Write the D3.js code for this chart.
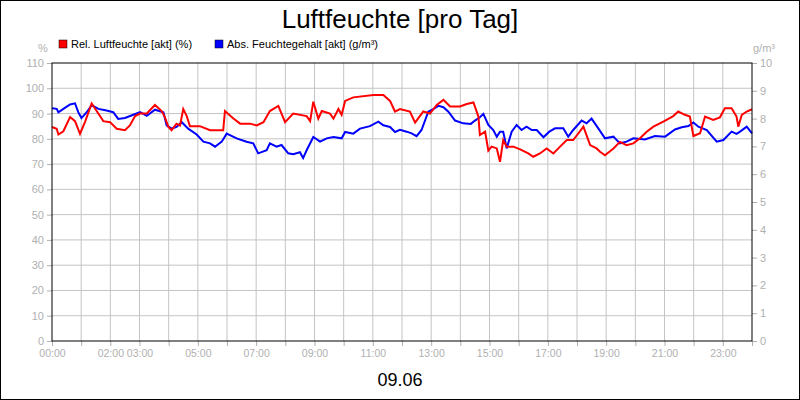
<!DOCTYPE html>
<html><head><meta charset="utf-8">
<script src="https://cdn.jsdelivr.net/npm/d3@7"></script>
<style>body{margin:0;background:#fff}svg{display:block}</style>
</head><body>
<svg id="chart" width="800" height="400"></svg>
<script>
// hours of day, relative humidity in %
const relTimes = [0,0.16,0.22,0.39,0.62,0.79,0.96,1.13,1.36,1.53,1.76,1.99,2.22,2.5,2.67,2.85,3.02,3.25,3.53,3.76,3.87,3.99,4.1,4.27,4.39,4.5,4.62,4.73,5.07,5.42,5.87,5.93,6.22,6.45,6.79,7.02,7.25,7.47,7.76,7.99,8.27,8.73,8.85,8.96,9.13,9.25,9.53,9.65,9.82,9.93,10.05,10.33,11.02,11.36,11.59,11.76,11.93,12.27,12.45,12.73,12.96,13.19,13.42,13.65,13.99,14.22,14.45,14.62,14.67,14.85,14.96,15.07,15.25,15.36,15.47,15.59,15.82,16.05,16.33,16.5,16.73,16.96,17.19,17.42,17.65,17.87,18.05,18.22,18.45,18.67,18.79,18.96,19.25,19.47,19.7,19.93,20.16,20.39,20.62,20.96,21.3,21.47,21.7,21.87,21.99,22.22,22.39,22.67,22.9,23.07,23.3,23.47,23.53,23.65,23.82,24];
const relValues = [84.7,84,81.7,83,88.6,87,82,86.6,94,91,87,86.6,84,83.4,85.3,89,90,90,93.4,91,88.6,84.7,83.4,86,85.3,91.8,89,85,85,83.4,83.4,91,88,86,86,85.3,86.6,91,93,86.6,90,89,87,94.7,88,91,90,88,91.8,89.5,95,96.4,97.3,97.3,95,90.8,91.8,90.8,86.4,90.8,90,93.4,95.4,92.8,92.8,93.8,94.4,88.8,81.5,82.8,75.3,76.9,76.2,70.9,79.5,76.9,76.9,75.8,74.2,72.9,74.2,76.2,74.2,76.9,79.5,79.5,82.2,84.8,77.5,76.2,74.9,73.5,76.2,78.8,77.5,78.2,80.2,82.8,84.8,86.8,89,90.8,89.5,88.8,81.1,82.2,88.8,87.5,88.5,92.1,92.1,88.8,84.8,89.5,90.8,91.7];
// hours of day, absolute humidity in g/m³
const absTimes = [0,0.16,0.22,0.39,0.62,0.79,0.9,1.01,1.19,1.36,1.59,1.87,2.1,2.27,2.5,2.79,3.02,3.25,3.53,3.82,3.93,4.1,4.27,4.45,4.67,4.96,5.19,5.42,5.59,5.82,5.99,6.33,6.67,6.9,7.07,7.36,7.47,7.7,7.87,8.1,8.27,8.5,8.61,8.73,8.96,9.19,9.42,9.65,9.93,10.05,10.33,10.56,10.9,11.19,11.36,11.59,11.76,11.93,12.16,12.33,12.5,12.67,12.9,13.07,13.25,13.42,13.59,13.82,14.1,14.36,14.5,14.67,14.79,14.96,15.13,15.25,15.36,15.47,15.59,15.76,15.93,16.1,16.27,16.45,16.62,16.85,17.05,17.25,17.53,17.7,17.87,18.16,18.33,18.5,18.73,18.96,19.25,19.47,19.7,19.93,20.33,20.67,21.02,21.36,21.59,21.82,21.99,22.16,22.45,22.79,23.02,23.3,23.47,23.59,23.82,24];
const absValues = [8.37,8.35,8.23,8.35,8.51,8.55,8.23,8.02,8.23,8.49,8.35,8.29,8.23,7.99,8.02,8.14,8.23,8.1,8.32,8.23,7.76,7.64,7.7,7.87,7.64,7.43,7.17,7.11,6.99,7.17,7.46,7.29,7.17,7.11,6.75,6.86,7.11,6.99,7.05,6.75,6.72,6.79,6.58,6.86,7.34,7.17,7.29,7.34,7.29,7.52,7.46,7.64,7.73,7.89,7.76,7.7,7.52,7.6,7.53,7.47,7.37,7.59,8.25,8.34,8.46,8.41,8.25,7.93,7.83,7.81,7.93,8.05,8.17,7.77,7.59,7.35,7.53,7.53,6.93,7.53,7.77,7.59,7.71,7.59,7.59,7.33,7.53,7.65,7.65,7.35,7.59,7.93,7.83,8.0,7.65,7.29,7.35,7.11,7.17,7.29,7.25,7.37,7.35,7.61,7.69,7.73,7.86,7.71,7.59,7.17,7.23,7.53,7.45,7.53,7.71,7.47,7.23,7.33,7.37];
const hourTicks = d3.range(0, 25);
const labelHours = [0,2,3,5,7,9,11,13,15,17,19,21,23];
const leftTicks = d3.range(0, 111, 10);
const rightTicks = d3.range(0, 11, 1);

const svg = d3.select("#chart");
const L = 52, R = 752, T = 63, B = 341;
const grey = "#b0b0b0";
const x = d3.scaleLinear().domain([0, 24]).range([L, R]);
const yL = d3.scaleLinear().domain([0, 110]).range([B, T]);
const yR = d3.scaleLinear().domain([0, 10]).range([B, T]);

svg.append("rect").attr("x", 0.5).attr("y", 0.5).attr("width", 799).attr("height", 399)
  .attr("fill", "#fff").attr("stroke", "#000");

// grid
svg.append("g").selectAll("line").data(hourTicks.slice(1, -1)).join("line")
  .attr("x1", d => x(d)).attr("x2", d => x(d)).attr("y1", T).attr("y2", B)
  .attr("stroke", "#c4c4c4");
svg.append("g").selectAll("line").data(leftTicks.slice(1, -1)).join("line")
  .attr("x1", L).attr("x2", R).attr("y1", d => yL(d)).attr("y2", d => yL(d))
  .attr("stroke", "#c4c4c4");

const font = "Liberation Sans, Arial, sans-serif";
// axes
const axL = svg.append("g").attr("transform", `translate(${L},0)`)
  .call(d3.axisLeft(yL).tickValues(leftTicks).tickSize(5).tickPadding(3));
const axR = svg.append("g").attr("transform", `translate(${R},0)`)
  .call(d3.axisRight(yR).tickValues(rightTicks).tickSize(5).tickPadding(3));
const axB = svg.append("g").attr("transform", `translate(0,${B})`)
  .call(d3.axisBottom(x).tickValues(hourTicks).tickSize(5).tickPadding(4)
    .tickFormat(d => labelHours.includes(d) ? String(d).padStart(2, "0") + ":00" : ""));
[axL, axR, axB].forEach(a => {
  a.select(".domain").remove();
  a.selectAll("line").attr("stroke", grey);
  a.selectAll("text").attr("fill", grey).style("font", `11px ${font}`);
});
axB.selectAll("text").style("font", `10.5px ${font}`);

// lines
const relLine = d3.line().x((d, i) => x(relTimes[i])).y(d => yL(d));
const absLine = d3.line().x((d, i) => x(absTimes[i])).y(d => yR(d));
svg.append("path").attr("d", absLine(absValues)).attr("fill", "none")
  .attr("stroke", "#0000ff").attr("stroke-width", 2);
svg.append("path").attr("d", relLine(relValues)).attr("fill", "none")
  .attr("stroke", "#ff0000").attr("stroke-width", 2);

svg.append("rect").attr("x", L).attr("y", T).attr("width", R - L).attr("height", B - T)
  .attr("fill", "none").attr("stroke", "#000");

// texts
svg.append("text").attr("x", 400).attr("y", 28).attr("text-anchor", "middle")
  .style("font", `26px ${font}`).text("Luftfeuchte [pro Tag]");
svg.append("text").attr("x", 400).attr("y", 386).attr("text-anchor", "middle")
  .style("font", `18px ${font}`).text("09.06");
svg.append("text").attr("x", 43).attr("y", 52).attr("text-anchor", "middle").attr("fill", grey)
  .style("font", `11px ${font}`).text("%");
svg.append("text").attr("x", 764).attr("y", 52).attr("text-anchor", "middle").attr("fill", grey)
  .style("font", `11px ${font}`).text("g/m³");

const legend = [
  { name: "Rel. Luftfeuchte [akt] (%)", color: "#ff0000", x: 59 },
  { name: "Abs. Feuchtegehalt [akt] (g/m³)", color: "#0000ff", x: 215 }
];
const lg = svg.append("g").selectAll("g").data(legend).join("g")
  .attr("transform", d => `translate(${d.x},40)`);
lg.append("rect").attr("width", 8).attr("height", 8).attr("fill", d => d.color)
  .attr("stroke", "#000").attr("stroke-width", 0.5);
lg.append("text").attr("x", 12).attr("y", 8).style("font", `11px ${font}`).text(d => d.name);
</script>
</body></html>
